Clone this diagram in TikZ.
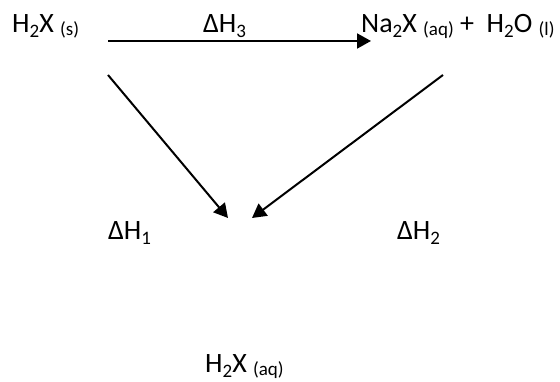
\documentclass[tikz,border=0pt]{standalone}
\usepackage{fontspec}
\setmainfont{Carlito}
\usetikzlibrary{arrows.meta}
% subscript digit and phase label
\newcommand{\sbs}[1]{\raisebox{-0.3ex}{\fontsize{19}{19}\selectfont #1}}
\newcommand{\phs}[1]{\raisebox{-0.2ex}{\fontsize{19}{19}\selectfont (#1)}}
\tikzset{
  chem/.style={anchor=base west, inner sep=0pt, font=\fontsize{28}{32}\selectfont},
  rx/.style={-{Triangle[length=14pt,width=15pt]}, line width=2pt, draw=black}
}
\begin{document}
\begin{tikzpicture}[x=1pt, y=1pt]
  \useasboundingbox (0,0) rectangle (560,382);
  % species
  \node[chem] (acid) at (12,349) {H\sbs{2}X \phs{s}};
  \node[chem] (prod) at (361,349) {Na\sbs{2}X \phs{aq} +\ \ H\sbs{2}O \phs{l}};
  \node[chem] (soln) at (205,9) {H\sbs{2}X \phs{aq}};
  % enthalpy labels
  \node[chem] (dh3) at (203,349) {ΔH\sbs{3}};
  \node[chem] (dh1) at (108,142) {ΔH\sbs{1}};
  \node[chem] (dh2) at (397,142) {ΔH\sbs{2}};
  % arrow ends
  \coordinate (a0) at (108,341);
  \coordinate (a1) at (371,341);
  \coordinate (l0) at (108,307);
  \coordinate (l1) at (228,164);
  \coordinate (r0) at (443,307);
  \coordinate (r1) at (252,164);
  \draw[rx] (a0) -- (a1);
  \draw[rx] (l0) -- (l1);
  \draw[rx] (r0) -- (r1);
\end{tikzpicture}
\end{document}
